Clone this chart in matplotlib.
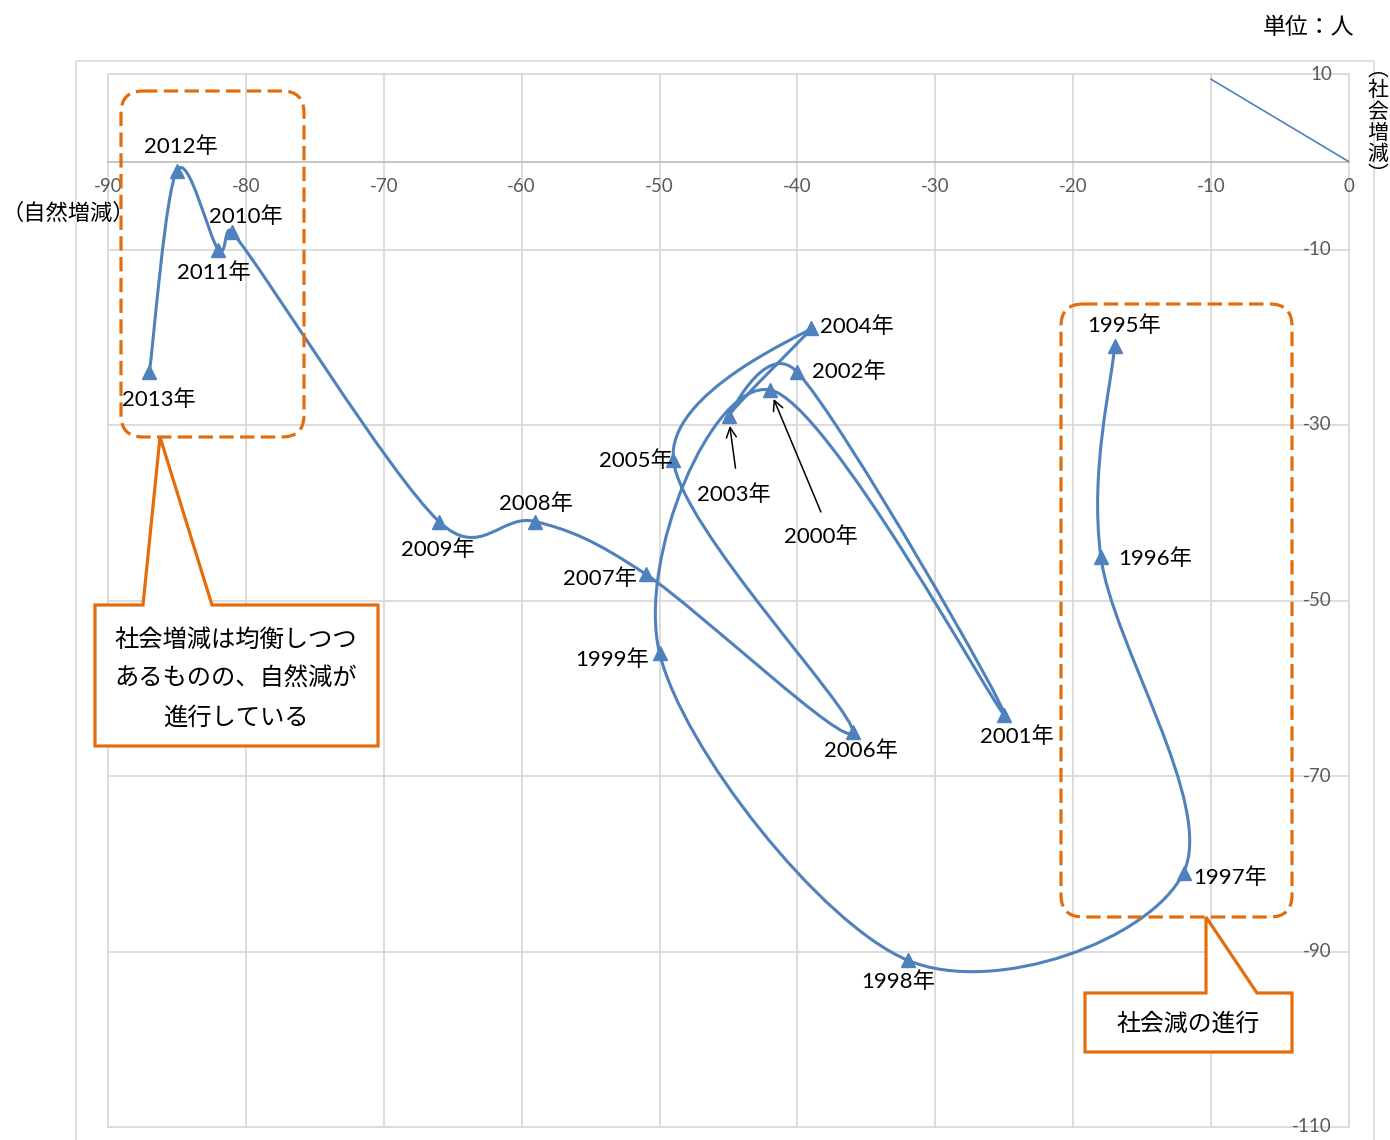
import numpy as np
import matplotlib
matplotlib.use('Agg')
import matplotlib.pyplot as plt
from matplotlib.path import Path
from matplotlib.patches import PathPatch, FancyBboxPatch, Polygon, Rectangle
from matplotlib.transforms import Affine2D

plt.rcParams['font.family'] = ['Noto Sans CJK JP', 'DejaVu Sans']
NUM_FONT = ['Lato', 'Noto Sans CJK JP']

# 年ごとの自然増減(x)と社会増減(y)
years = [1995, 1996, 1997, 1998, 1999, 2000, 2001, 2002, 2003, 2004,
         2005, 2006, 2007, 2008, 2009, 2010, 2011, 2012, 2013]
natural = [-17, -18, -12, -32, -50, -42, -25, -40, -45, -39,
           -49, -36, -51, -59, -66, -81, -82, -85, -87]
social = [-21, -45, -81, -91, -56, -26, -63, -24, -29, -19,
          -34, -65, -47, -41, -41, -8, -10, -1, -24]

# 右上の補助線
aux_x = [-10, 0]
aux_y = [9.4, 0]

x_ticks = [-90, -80, -70, -60, -50, -40, -30, -20, -10, 0]
y_ticks = [10, -10, -30, -50, -70, -90, -110]

BLUE = '#4F81BD'
ORANGE = '#E46C0A'
GRID = '#d9d9d9'

W, H = 1390, 1140
fig = plt.figure(figsize=(W / 100, H / 100), dpi=100)
px = Affine2D().scale(1 / 100, -1 / 100).translate(0, H / 100) + fig.dpi_scale_trans

ax = fig.add_axes([108 / W, (H - 1127) / H, (1349 - 108) / W, (1127 - 74) / H])
ax.set_xlim(-90, 0)
ax.set_ylim(-110, 10)
for s in ax.spines.values():
    s.set_visible(False)
ax.set_xticks([])
ax.set_yticks([])

# グリッド
for x in x_ticks:
    ax.axvline(x, color=GRID, lw=1.3, clip_on=False, zorder=0)
for y in y_ticks:
    ax.axhline(y, color=GRID, lw=1.3, clip_on=False, zorder=0)
ax.axhline(0, color='#bfbfbf', lw=1.3, clip_on=False, zorder=0)

# 目盛りラベル
for x in x_ticks:
    ax.annotate(str(x), (x, 0), xytext=(0, -25), textcoords='offset pixels',
                ha='center', va='center', fontsize=13.5, color='#595959',
                family=NUM_FONT)
for y in y_ticks:
    ax.annotate(str(y), (0, y), xytext=(-17, 0), textcoords='offset pixels',
                ha='right', va='center', fontsize=13.5, color='#595959',
                family=NUM_FONT)


# なめらかな線 (Excel風: 画面座標でCatmull-Rom、制御点の長さを区間長で制限)
def smooth_path(xs, ys, k=0.6):
    P = ax.transData.transform(np.column_stack([xs, ys]))
    n = len(P)
    tang = []
    for i in range(n):
        tang.append((P[min(i + 1, n - 1)] - P[max(i - 1, 0)]) / 6)
    verts = [P[0]]
    codes = [Path.MOVETO]
    for i in range(n - 1):
        seg = np.hypot(*(P[i + 1] - P[i]))
        t1, t2 = tang[i], tang[i + 1]
        l1, l2 = np.hypot(*t1), np.hypot(*t2)
        if l1 > k * seg:
            t1 = t1 * k * seg / l1
        if l2 > k * seg:
            t2 = t2 * k * seg / l2
        verts += [P[i] + t1, P[i + 1] - t2, P[i + 1]]
        codes += [Path.CURVE4] * 3
    verts = ax.transData.inverted().transform(np.array(verts))
    return Path(verts, codes)


ax.add_patch(PathPatch(smooth_path(natural, social), fill=False,
                       edgecolor=BLUE, lw=2.2, zorder=3))
ax.plot(natural, social, ls='none', marker='^', ms=9.5, color=BLUE, zorder=4)
ax.plot(aux_x, aux_y, color=BLUE, lw=1.2, zorder=3)

# データラベル
offsets = {
    1995: (9, 20), 1996: (54, -2), 1997: (47, -5), 1998: (-10, -21),
    1999: (-47, -6), 2000: (51, -147), 2001: (13, -22), 2002: (51, 1),
    2003: (5, -78), 2004: (46, 2), 2005: (-37, -1), 2006: (8, -18),
    2007: (-46, -4), 2008: (0, 18), 2009: (-1, -28), 2010: (14, 15),
    2011: (-4, -23), 2012: (4, 24), 2013: (10, -27),
}
for yr, x, y in zip(years, natural, social):
    ax.annotate(f'{yr}年', (x, y), xytext=offsets[yr], textcoords='offset pixels',
                ha='center', va='center', fontsize=16, color='black', zorder=5,
                family=NUM_FONT)

# 2003年・2000年の矢印
arrow_tails = {2003: (7, -52), 2000: (51, -122)}
for yr, tail in arrow_tails.items():
    i = years.index(yr)
    ax.annotate('', (natural[i], social[i]), xytext=tail, textcoords='offset pixels',
                arrowprops=dict(arrowstyle='->', color='black', lw=1.1,
                                shrinkA=0, shrinkB=7, mutation_scale=18), zorder=5)

# 外枠
fig.add_artist(Rectangle((76, 61), 1298, 1100, transform=px, fill=False,
                         edgecolor=GRID, lw=1.2))

# 点線の囲み
for (x0, y0, x1, y1) in [(121, 91, 304, 437), (1061, 304, 1292, 917)]:
    fig.add_artist(FancyBboxPatch((x0, y0), x1 - x0, y1 - y0,
                                  boxstyle='round,pad=0,rounding_size=22',
                                  transform=px, fill=False, edgecolor=ORANGE,
                                  lw=2.3, ls=(0, (4.5, 2)), zorder=6))

# 吹き出し
callout_l = [(95, 605), (143, 605), (160, 437), (212, 605), (378, 605),
             (378, 746), (95, 746)]
callout_r = [(1085, 993), (1206, 993), (1206, 917), (1257, 993), (1292, 993),
             (1292, 1052), (1085, 1052)]
for pts in [callout_l, callout_r]:
    fig.add_artist(Polygon(pts, closed=True, transform=px, facecolor='white',
                           edgecolor=ORANGE, lw=2.3, joinstyle='miter', zorder=7))

fig.text(236, 679, '社会増減は均衡しつつ\nあるものの、自然減が\n進行している',
         transform=px, ha='center', va='center', fontsize=17.5,
         linespacing=1.66, zorder=8)
fig.text(1188, 1024, '社会減の進行', transform=px, ha='center', va='center',
         fontsize=17.2, zorder=8)

# 軸の見出し
fig.text(68, 213, '（自然増減）', transform=px, ha='center', va='center', fontsize=16)
fig.text(1378, 122, '︵\n社\n会\n増\n減\n︶', transform=px, ha='center', va='center',
         fontsize=15, linespacing=0.95)
fig.text(1354, 27, '単位：人', transform=px, ha='right', va='center', fontsize=16.5)

fig.savefig('out.png', dpi=100, facecolor='white')
